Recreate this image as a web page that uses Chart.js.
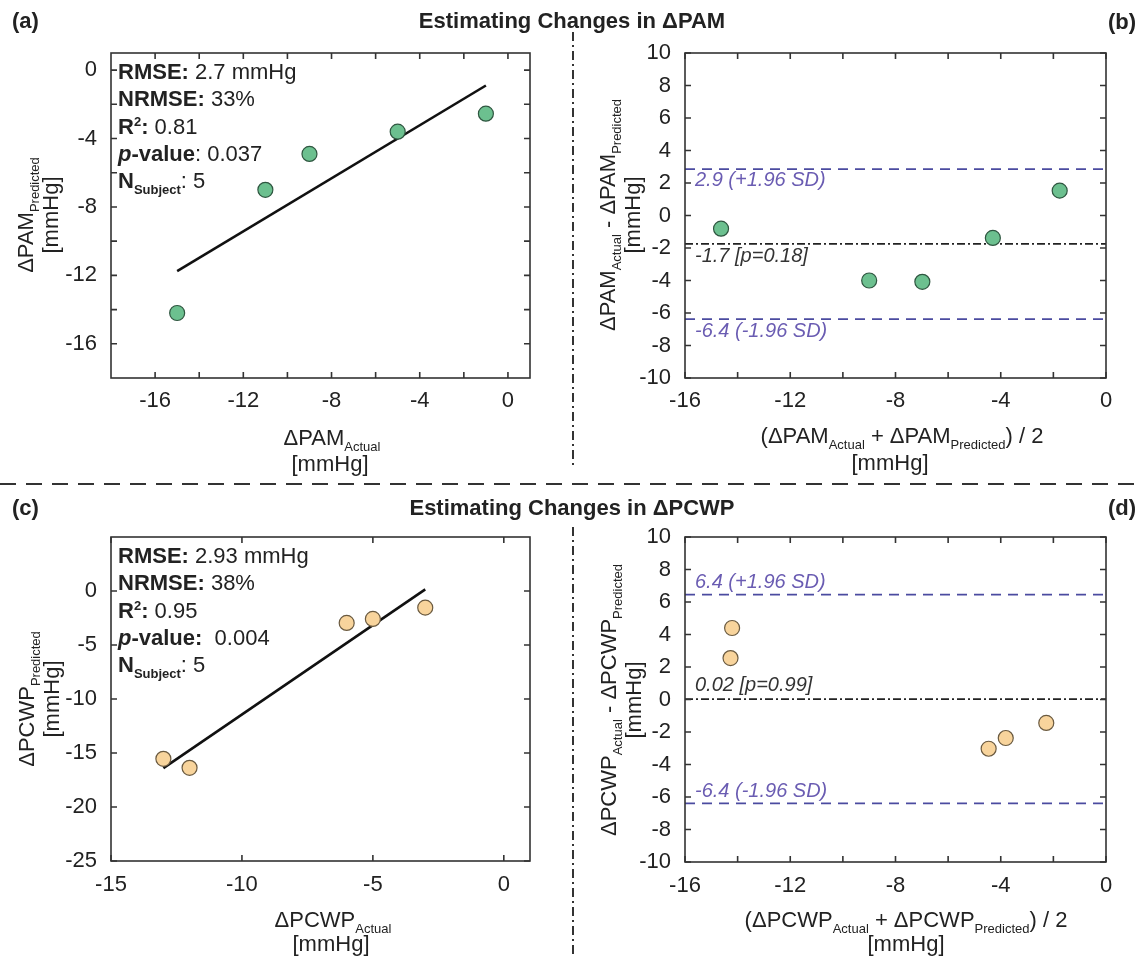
<!DOCTYPE html>
<html>
<head>
<meta charset="UTF-8">
<title>Estimating Changes in ΔPAM and ΔPCWP</title>
<script src="https://cdn.jsdelivr.net/npm/chart.js"></script>
<style>
  body { margin: 0; background: #fff; font-family: "Liberation Sans", Arial, sans-serif; color: #222; }
  #page { position: relative; width: 1138px; height: 956px; overflow: hidden; }
  canvas.panel { position: absolute; }
  .txt { position: absolute; white-space: nowrap; font-size: 22px; line-height: 22px; }
  .ctr { transform: translateX(-50%); }
  .rot { position: absolute; white-space: nowrap; font-size: 22px; line-height: 25px; text-align: center;
         transform: translate(-50%, -50%) rotate(-90deg); }
  sub { font-size: 13px; line-height: 0; vertical-align: -6px; }
  sup { font-size: 13px; line-height: 0; vertical-align: 8px; }
  .stats { position: absolute; font-size: 22px; line-height: 27.3px; white-space: nowrap; }
  #lines { position: absolute; left: 0; top: 0; }
</style>
</head>
<body>
<div id="page">
  <canvas class="panel" id="chartA" width="570" height="420" style="left:0;top:0"></canvas>
  <canvas class="panel" id="chartB" width="565" height="420" style="left:573px;top:0"></canvas>
  <canvas class="panel" id="chartC" width="570" height="420" style="left:0;top:490px"></canvas>
  <canvas class="panel" id="chartD" width="565" height="420" style="left:573px;top:490px"></canvas>

  <svg id="lines" width="1138" height="956">
    <line x1="0" y1="484" x2="1138" y2="484" stroke="#333" stroke-width="2" stroke-dasharray="16 10"/>
    <line x1="573" y1="32" x2="573" y2="466" stroke="#333" stroke-width="2" stroke-dasharray="9 4 2 4"/>
    <line x1="573" y1="527" x2="573" y2="956" stroke="#333" stroke-width="2" stroke-dasharray="9 4 2 4"/>
  </svg>

  <!-- headers -->
  <div class="txt" style="left:12px;top:10px;font-weight:bold">(a)</div>
  <div class="txt ctr" style="left:572px;top:10px;font-weight:bold">Estimating Changes in ΔPAM</div>
  <div class="txt" style="left:1108px;top:11px;font-weight:bold">(b)</div>
  <div class="txt" style="left:12px;top:497px;font-weight:bold">(c)</div>
  <div class="txt ctr" style="left:572px;top:497px;font-weight:bold">Estimating Changes in ΔPCWP</div>
  <div class="txt" style="left:1108px;top:497px;font-weight:bold">(d)</div>

  <!-- stats boxes -->
  <div class="stats" style="left:118px;top:58px">
    <b>RMSE:</b> 2.7 mmHg<br>
    <b>NRMSE:</b> 33%<br>
    <b>R<sup>2</sup>:</b> 0.81<br>
    <b><i>p</i>-value</b>: 0.037<br>
    <b>N<sub>Subject</sub></b>: 5
  </div>
  <div class="stats" style="left:118px;top:542px">
    <b>RMSE:</b> 2.93 mmHg<br>
    <b>NRMSE:</b> 38%<br>
    <b>R<sup>2</sup>:</b> 0.95<br>
    <b><i>p</i>-value:</b>&nbsp; 0.004<br>
    <b>N<sub>Subject</sub></b>: 5
  </div>

  <!-- axis titles -->
  <div class="rot" style="left:38px;top:215px">ΔPAM<sub>Predicted</sub><br>[mmHg]</div>
  <div class="txt ctr" style="left:332px;top:427px">ΔPAM<sub>Actual</sub></div>
  <div class="txt ctr" style="left:330px;top:453px">[mmHg]</div>

  <div class="rot" style="left:620px;top:215px">ΔPAM<sub>Actual</sub> - ΔPAM<sub>Predicted</sub><br>[mmHg]</div>
  <div class="txt ctr" style="left:902px;top:425px">(ΔPAM<sub>Actual</sub> + ΔPAM<sub>Predicted</sub>) / 2</div>
  <div class="txt ctr" style="left:890px;top:452px">[mmHg]</div>

  <div class="rot" style="left:39px;top:699px">ΔPCWP<sub>Predicted</sub><br>[mmHg]</div>
  <div class="txt ctr" style="left:333px;top:909px">ΔPCWP<sub>Actual</sub></div>
  <div class="txt ctr" style="left:331px;top:933px">[mmHg]</div>

  <div class="rot" style="left:621px;top:700px">ΔPCWP<sub>Actual</sub> - ΔPCWP<sub>Predicted</sub><br>[mmHg]</div>
  <div class="txt ctr" style="left:906px;top:909px">(ΔPCWP<sub>Actual</sub> + ΔPCWP<sub>Predicted</sub>) / 2</div>
  <div class="txt ctr" style="left:906px;top:933px">[mmHg]</div>
</div>

<script>
// ---- data ----
// (a) PAM: actual vs predicted
const pamActual = [-15, -11, -9, -5, -1];
const pamPredicted = [-14.2, -7.0, -4.9, -3.6, -2.55];
const pamFitX = [-15, -1];
const pamFitY = [-11.75, -0.9];

// (b) PAM Bland-Altman
const pamMean = [-14.63, -9.0, -6.98, -4.3, -1.76];
const pamDiff = [-0.81, -4.0, -4.08, -1.38, 1.53];
const pamBias = -1.75, pamUpper = 2.86, pamLower = -6.38;
const pamLabels = ['2.9 (+1.96 SD)', '-1.7 [p=0.18]', '-6.4 (-1.96 SD)'];

// (c) PCWP: actual vs predicted
const pcwpActual = [-13, -12, -6, -5, -3];
const pcwpPredicted = [-15.54, -16.37, -2.96, -2.59, -1.54];
const pcwpFitX = [-13, -3];
const pcwpFitY = [-16.4, 0.15];

// (d) PCWP Bland-Altman
const pcwpMean = [-14.21, -14.27, -4.46, -3.81, -2.27];
const pcwpDiff = [4.4, 2.55, -3.03, -2.37, -1.44];
const pcwpBias = 0.02, pcwpUpper = 6.45, pcwpLower = -6.39;
const pcwpLabels = ['6.4 (+1.96 SD)', '0.02 [p=0.99]', '-6.4 (-1.96 SD)'];

// axis ranges / ticks
const aRange = [-18, 1];
const aTicks = [-16, -14, -12, -10, -8, -6, -4, -2, 0];
const aTickLabels = [-16, -12, -8, -4, 0];
const baX = [-16, 0], baY = [-10, 10];
const baXTicks = [-16, -14, -12, -10, -8, -6, -4, -2, 0];
const baXTickLabels = [-16, -12, -8, -4, 0];
const baYTicks = [-10, -8, -6, -4, -2, 0, 2, 4, 6, 8, 10];
const cX = [-15, 1], cY = [-25, 5];
const cXTicks = [-15, -10, -5, 0];
const cYTicks = [-25, -20, -15, -10, -5, 0];

const FONT = '"Liberation Sans", Arial, sans-serif';
const green = '#6cc08f', greenEdge = '#2f5640';
const peach = '#f8d49c', peachEdge = '#6a5a40';
const loaColor = '#4b4ba0', loaText = '#6a5cb2';

// MATLAB-ish box with inward ticks and reference line labels
const boxPlugin = {
  id: 'box',
  afterDatasetsDraw(chart, args, o) {
    const ctx = chart.ctx, a = chart.chartArea;
    const x = chart.scales.x, y = chart.scales.y;
    ctx.save();
    (o.refs || []).forEach(r => {
      ctx.font = 'italic 20px ' + FONT;
      ctx.fillStyle = r.color;
      ctx.textBaseline = 'alphabetic';
      ctx.fillText(r.text, a.left + 10, y.getPixelForValue(r.y) + r.dy);
    });
    ctx.strokeStyle = '#333';
    ctx.lineWidth = 1.6;
    ctx.strokeRect(a.left, a.top, a.right - a.left, a.bottom - a.top);
    const L = 6;
    ctx.beginPath();
    o.xTicks.forEach(v => {
      const p = x.getPixelForValue(v);
      ctx.moveTo(p, a.bottom); ctx.lineTo(p, a.bottom - L);
      ctx.moveTo(p, a.top); ctx.lineTo(p, a.top + L);
    });
    o.yTicks.forEach(v => {
      const p = y.getPixelForValue(v);
      ctx.moveTo(a.left, p); ctx.lineTo(a.left + L, p);
      ctx.moveTo(a.right, p); ctx.lineTo(a.right - L, p);
    });
    ctx.stroke();
    ctx.restore();
  }
};

function pts(xs, ys) { return xs.map((v, i) => ({ x: v, y: ys[i] })); }

function scatterSet(xs, ys, fill, edge) {
  return { type: 'scatter', data: pts(xs, ys), pointRadius: 7.5, pointBackgroundColor: fill,
           pointBorderColor: edge, pointBorderWidth: 1.2, order: 0 };
}
function lineSet(xs, ys, color, width, dash) {
  return { type: 'line', data: pts(xs, ys), borderColor: color, borderWidth: width,
           borderDash: dash || [], pointRadius: 0, fill: false, order: 1 };
}

function makePanel(id, p) {
  return new Chart(document.getElementById(id), {
    type: 'scatter',
    data: { datasets: p.datasets },
    options: {
      responsive: false,
      animation: false,
      layout: { padding: { top: p.top, right: p.right, left: 0, bottom: 0 } },
      plugins: {
        legend: { display: false },
        tooltip: { enabled: false },
        box: { xTicks: p.xTicks, yTicks: p.yTicks, refs: p.refs }
      },
      scales: {
        x: {
          type: 'linear', min: p.xRange[0], max: p.xRange[1],
          afterBuildTicks: s => { s.ticks = p.xTicks.map(v => ({ value: v })); },
          afterFit: s => { s.height = p.xH; },
          grid: { display: false }, border: { display: false },
          ticks: { autoSkip: false, maxRotation: 0, padding: p.xPad, color: '#222',
                   font: { size: 22, family: FONT },
                   callback: v => p.xLabels.includes(v) ? String(v) : '' }
        },
        y: {
          type: 'linear', min: p.yRange[0], max: p.yRange[1],
          afterBuildTicks: s => { s.ticks = p.yTicks.map(v => ({ value: v })); },
          afterFit: s => { s.width = p.yW; },
          grid: { display: false }, border: { display: false },
          ticks: { autoSkip: false, padding: 6, color: '#222',
                   font: { size: 22, family: FONT },
                   callback: v => p.yLabels.includes(v) ? String(v) : '' }
        }
      }
    },
    plugins: [boxPlugin]
  });
}

// (a)
makePanel('chartA', {
  top: 53, right: 40, yW: 111, xH: 42, xPad: 2,
  xRange: aRange, yRange: aRange,
  xTicks: aTicks, yTicks: aTicks, xLabels: aTickLabels, yLabels: aTickLabels,
  datasets: [
    scatterSet(pamActual, pamPredicted, green, greenEdge),
    lineSet(pamFitX, pamFitY, '#111', 2.6)
  ]
});

// (b)
makePanel('chartB', {
  top: 53, right: 32, yW: 112, xH: 42, xPad: 2,
  xRange: baX, yRange: baY,
  xTicks: baXTicks, yTicks: baYTicks, xLabels: baXTickLabels, yLabels: baYTicks,
  refs: [
    { y: pamUpper, text: pamLabels[0], color: loaText, dy: 17 },
    { y: pamBias, text: pamLabels[1], color: '#333', dy: 18 },
    { y: pamLower, text: pamLabels[2], color: loaText, dy: 18 }
  ],
  datasets: [
    scatterSet(pamMean, pamDiff, green, greenEdge),
    lineSet(baX, [pamUpper, pamUpper], loaColor, 1.8, [10, 7]),
    lineSet(baX, [pamBias, pamBias], '#222', 1.8, [8, 3, 2, 3]),
    lineSet(baX, [pamLower, pamLower], loaColor, 1.8, [10, 7])
  ]
});

// (c)
makePanel('chartC', {
  top: 47, right: 40, yW: 111, xH: 49, xPad: 3,
  xRange: cX, yRange: cY,
  xTicks: cXTicks, yTicks: cYTicks, xLabels: cXTicks, yLabels: cYTicks,
  datasets: [
    scatterSet(pcwpActual, pcwpPredicted, peach, peachEdge),
    lineSet(pcwpFitX, pcwpFitY, '#111', 2.6)
  ]
});

// (d)
makePanel('chartD', {
  top: 47, right: 32, yW: 112, xH: 48, xPad: 3,
  xRange: baX, yRange: baY,
  xTicks: baXTicks, yTicks: baYTicks, xLabels: baXTickLabels, yLabels: baYTicks,
  refs: [
    { y: pcwpUpper, text: pcwpLabels[0], color: loaText, dy: -7 },
    { y: pcwpBias, text: pcwpLabels[1], color: '#333', dy: -8 },
    { y: pcwpLower, text: pcwpLabels[2], color: loaText, dy: -6 }
  ],
  datasets: [
    scatterSet(pcwpMean, pcwpDiff, peach, peachEdge),
    lineSet(baX, [pcwpUpper, pcwpUpper], loaColor, 1.8, [10, 7]),
    lineSet(baX, [pcwpBias, pcwpBias], '#222', 1.8, [8, 3, 2, 3]),
    lineSet(baX, [pcwpLower, pcwpLower], loaColor, 1.8, [10, 7])
  ]
});
</script>
</body>
</html>
